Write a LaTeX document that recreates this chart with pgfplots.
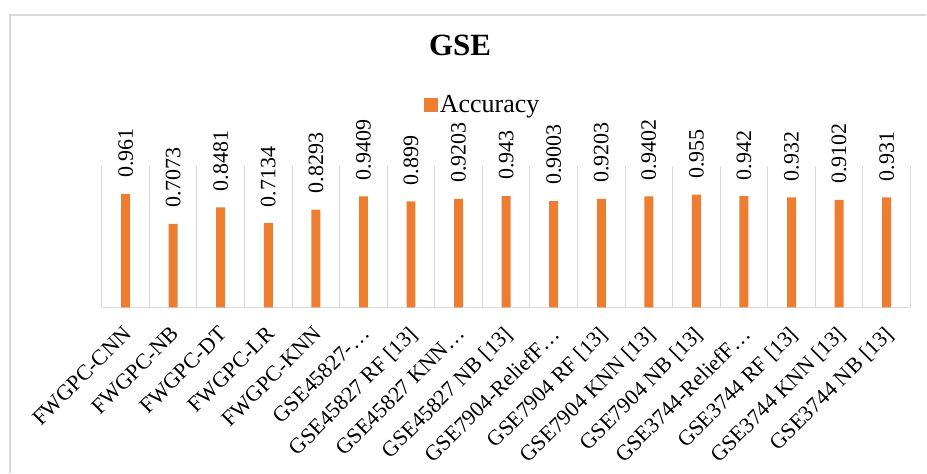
\documentclass[border=0pt]{standalone}
\usepackage{pgfplots}
\pgfplotsset{compat=1.18}
\usepackage{pgfplotstable}
\usepackage{fontspec}
\setmainfont{Liberation Serif}
\definecolor{barorange}{HTML}{ED7D31}
\definecolor{gridgray}{HTML}{D9D9D9}
\pgfplotstableread{
x y label
0 0.961 0.961
1 0.7073 0.7073
2 0.8481 0.8481
3 0.7134 0.7134
4 0.8293 0.8293
5 0.9409 0.9409
6 0.899 0.899
7 0.9203 0.9203
8 0.943 0.943
9 0.9003 0.9003
10 0.9203 0.9203
11 0.9402 0.9402
12 0.955 0.955
13 0.942 0.942
14 0.932 0.932
15 0.9102 0.9102
16 0.931 0.931
}\accdata
\begin{document}
\begin{tikzpicture}
\begin{axis}[
  name=ax,
  at={(0,0)}, anchor=south west,
  scale only axis,
  width=810pt, height=142pt,
  xmin=-0.5, xmax=16.5, ymin=0, ymax=1.2,
  axis y line=none,
  axis x line*=bottom,
  x axis line style={-, draw=gridgray, line width=1pt},
  xtick={0,...,16},
  major tick length=0pt,
  minor xtick={-0.5,0.5,...,16.5},
  minor tick length=0pt,
  xminorgrids,
  minor grid style={draw=gridgray, line width=1pt},
  xticklabels={FWGPC-CNN, FWGPC-NB, FWGPC-DT, FWGPC-LR, FWGPC-KNN, GSE45827-…, {GSE45827 RF [13]}, {GSE45827 KNN…}, {GSE45827 NB [13]}, GSE7904-ReliefF…, {GSE7904 RF [13]}, {GSE7904 KNN [13]}, {GSE7904 NB [13]}, GSE3744-ReliefF…, {GSE3744 RF [13]}, {GSE3744 KNN [13]}, {GSE3744 NB [13]}},
  xticklabel style={rotate=45, anchor=north east, font=\fontsize{22}{24}\selectfont, inner sep=1pt, xshift=-13.5pt, yshift=-9pt},
  ybar, bar width=9pt,
  point meta=explicit symbolic,
  nodes near coords,
  nodes near coords style={rotate=90, anchor=west, inner xsep=16pt, inner ysep=0pt, font=\fontsize{22}{24}\selectfont, text=black},
  title={\textbf{GSE}},
  title style={at={(0.443,1.81)}, anchor=center, font=\fontsize{31}{34}\selectfont},
  legend style={at={(0.471,1.43)}, anchor=center, draw=none, fill=none, font=\fontsize{26}{28}\selectfont, inner sep=0pt},
  legend image code/.code={\fill[barorange] (0pt,-7pt) rectangle (14pt,7pt);},
]
\addplot[fill=barorange, draw=none] table[x=x, y=y, meta=label] {\accdata};
\addlegendentry{Accuracy}
\end{axis}
\pgfresetboundingbox
\path (-102pt,-165pt) rectangle (825pt,308pt);
\draw[gridgray, line width=1.2pt] (-92pt,-166pt) -- (-92pt,293pt) -- (826pt,293pt);
\end{tikzpicture}
\end{document}
